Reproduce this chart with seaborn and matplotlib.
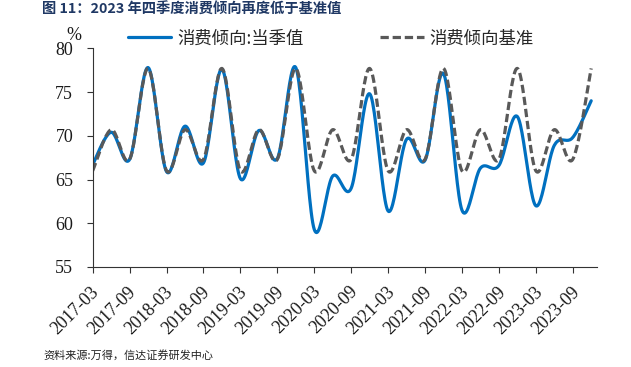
import numpy as np
import pandas as pd
import matplotlib
matplotlib.use('Agg')
import matplotlib.pyplot as plt
import matplotlib.transforms as mtransforms
import seaborn as sns

# quarterly consumption propensity (%), 2017Q1 .. 2023Q4
quarters = pd.period_range('2017Q1', '2023Q4', freq='Q')
actual = [66.7, 70.4, 67.3, 77.8, 65.9, 71.1, 66.9, 77.6, 65.1, 70.6, 67.4, 77.8,
          59.3, 65.4, 64.0, 74.8, 61.4, 69.6, 67.2, 77.1, 61.5, 66.3, 66.6, 72.2,
          62.0, 68.9, 69.8, 74.0]
baseline = [66.0, 70.7, 67.3, 77.7, 66.0, 70.7, 67.3, 77.7, 66.0, 70.7, 67.3, 77.7,
            66.0, 70.7, 67.3, 77.7, 66.0, 70.7, 67.3, 77.7, 66.0, 70.7, 67.3, 77.7,
            66.0, 70.7, 67.3, 77.7]
tick_labels = ['2017-03', '2017-09', '2018-03', '2018-09', '2019-03', '2019-09', '2020-03',
               '2020-09', '2021-03', '2021-09', '2022-03', '2022-09', '2023-03', '2023-09']

label_actual = '消费倾向:当季值'
label_base = '消费倾向基准'
title = '图 11：2023 年四季度消费倾向再度低于基准值'
source = '资料来源:万得，信达证券研发中心'

CJK = ['Noto Sans CJK SC', 'DejaVu Sans']


def smooth(x, y, steps=24):
    # Catmull-Rom curve through the points, like the smoothed lines in the original
    p = np.column_stack([x, y]).astype(float)
    p = np.vstack([p[0], p, p[-1]])
    t = np.linspace(0, 1, steps, endpoint=False)[:, None]
    out = []
    for i in range(1, len(p) - 2):
        p0, p1, p2, p3 = p[i - 1], p[i], p[i + 1], p[i + 2]
        seg = 0.5 * (2 * p1 + (-p0 + p2) * t + (2 * p0 - 5 * p1 + 4 * p2 - p3) * t ** 2
                     + (-p0 + 3 * p1 - 3 * p2 + p3) * t ** 3)
        out.append(seg)
    out.append(p[-2][None, :])
    out = np.vstack(out)
    return out[:, 0], out[:, 1]


idx = np.arange(len(quarters))
xa, ya = smooth(idx, actual)
xb, yb = smooth(idx, baseline)

sns.set_theme(style='ticks')
plt.rcParams['font.family'] = ['Liberation Serif', 'Noto Sans CJK SC']

fig = plt.figure(figsize=(6.31, 3.67), dpi=100)
ax = fig.add_axes([0.1469, 0.2725, 0.7988, 0.5959])

sns.lineplot(x=xa, y=ya, sort=False, estimator=None, color='#0070C0', linewidth=2.3,
             label=label_actual, ax=ax)
sns.lineplot(x=xb, y=yb, sort=False, estimator=None, color='#595959', linewidth=2.3,
             label=label_base, ax=ax)
ax.lines[1].set_dashes((2.6, 1.2))

ax.set_xlim(0, 27.3)
ax.set_ylim(55, 80)
ax.set_yticks([55, 60, 65, 70, 75, 80])
ax.set_xticks(idx[::2])
ax.set_xticklabels(tick_labels, rotation=45, ha='right', va='center', rotation_mode='anchor')
ax.tick_params(axis='both', direction='out', length=4, width=0.8, color='#333333',
               labelsize=13, labelcolor='#1a1a1a', pad=10)
ax.tick_params(axis='x', pad=12)
# labels sit a little to the right of their ticks in the original
shift = mtransforms.ScaledTranslation(0.04, 0, fig.dpi_scale_trans)
for lab in ax.get_xticklabels():
    lab.set_transform(lab.get_transform() + shift)
for side in ['top', 'right']:
    ax.spines[side].set_visible(False)
for side in ['left', 'bottom']:
    ax.spines[side].set_color('#333333')
    ax.spines[side].set_linewidth(0.8)
ax.set_xlabel('')
ax.set_ylabel('')

ax.legend(loc='center left', bbox_to_anchor=(128 / 631, 1 - 38.5 / 367),
          bbox_transform=fig.transFigure, ncol=2, frameon=False, borderpad=0,
          borderaxespad=0, handlelength=2.5, handletextpad=0.35, columnspacing=4.4,
          prop={'family': CJK, 'size': 12.5})

fig.text(74 / 631, 1 - 36 / 367, '%', ha='center', va='center', fontsize=13,
         family='Liberation Serif', color='#1a1a1a')
fig.text(42 / 631, 1 - 10 / 367, title, ha='left', va='center', fontsize=10.3,
         fontweight='bold', color='#1F3864', family=CJK)
fig.text(43 / 631, 1 - 355 / 367, source, ha='left', va='center', fontsize=8,
         color='#222222', family=CJK, style='italic')

fig.savefig('out.png', dpi=100)
